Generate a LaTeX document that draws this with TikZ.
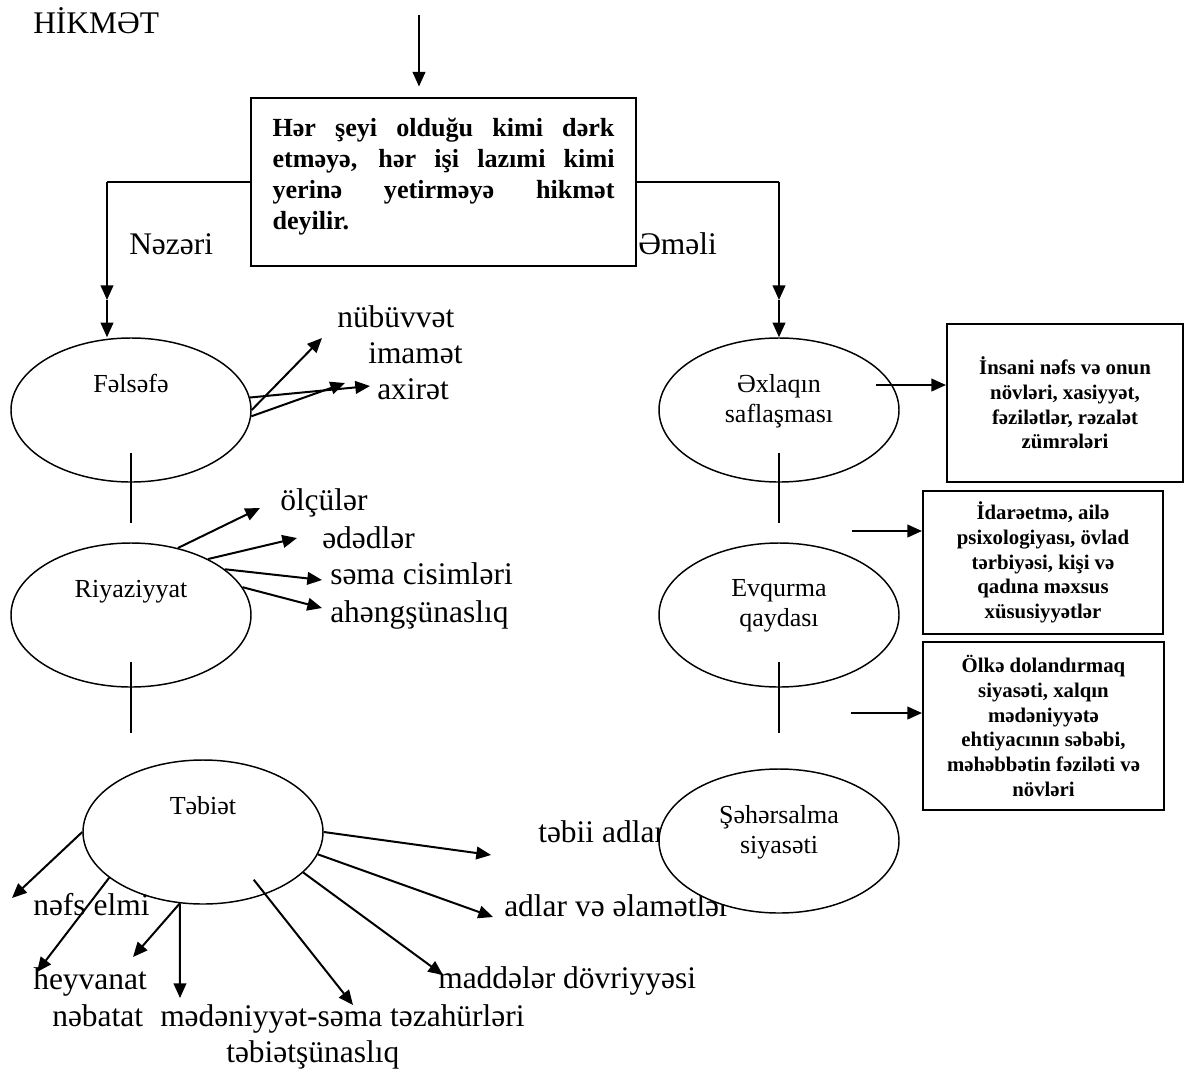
\documentclass[tikz,border=0pt]{standalone}
\usepackage{fontspec}
\setmainfont{Liberation Serif}
\usetikzlibrary{shapes.geometric,arrows.meta}

\newcommand\lblfont{\fontsize{23.6}{28}\selectfont}
\newcommand\ellfont{\fontsize{19.5}{22.5}\selectfont}
\newcommand\hikfont{\bfseries\fontsize{19.6}{23.25}\selectfont}
\newcommand\boxfont{\bfseries\fontsize{15.6}{18.5}\selectfont}

\begin{document}
\begin{tikzpicture}[
    x=0.75pt, y=-0.75pt,
    ellipsebox/.style={ellipse, draw, line width=1.1pt, minimum width=180pt, minimum height=108pt, inner sep=0pt, font=\ellfont, align=center},
    toplabel/.style={text height=14pt, text depth=41pt},
    twolines/.style={text depth=17.5pt},
    textbox/.style={rectangle, draw, line width=1.5pt, align=center, inner sep=0pt, font=\boxfont},
    lbl/.style={anchor=base west, inner sep=0pt, font=\lblfont},
    arrow/.style={-{Triangle[length=11pt, width=9.5pt]}, line width=1.5pt},
    plain/.style={line width=1pt}
  ]
  \useasboundingbox (0,0) rectangle (1186,1072);

  % Title and definition
  \node[lbl] (title) at (33,33) {HİKMƏT};
  \node[rectangle, draw, line width=1.2pt, minimum width=288.75pt, minimum height=126pt, text width=256.5pt, text depth=82pt, align=justify, font=\hikfont] (hikmet) at (443.5,182) {Hər şeyi olduğu kimi dərk\linebreak etməyə, hər işi lazımi kimi\linebreak yerinə yetirməyə hikmət\linebreak deyilir.};
  \node[lbl] (nezeri) at (129,254) {Nəzəri};
  \node[lbl] (emeli) at (638,254) {Əməli};

  % Theoretical branch
  \node[ellipsebox, toplabel] (felsefe) at (131,410) {Fəlsəfə};
  \node[ellipsebox, toplabel] (riyaziyyat) at (131,615) {Riyaziyyat};
  \node[ellipsebox, toplabel] (tebiet) at (203,832) {Təbiət};

  % Practical branch
  \node[ellipsebox, twolines] (exlaq) at (779,410) {Əxlaqın\\saflaşması};
  \node[ellipsebox, twolines] (evqurma) at (779,615) {Evqurma\\qaydası};
  \node[textbox, minimum width=177pt, minimum height=118.5pt] (nefsbox) at (1065,403) {İnsani nəfs və onun\\növləri, xasiyyət,\\fəzilətlər, rəzalət\\zümrələri};
  \node[textbox, minimum width=180pt, minimum height=107.25pt] (idarebox) at (1043,562.5) {İdarəetmə, ailə\\psixologiyası, övlad\\tərbiyəsi, kişi və\\qadına məxsus\\xüsusiyyətlər};
  \node[textbox, minimum width=180.75pt, minimum height=126pt] (olkebox) at (1043.5,726) {Ölkə dolandırmaq\\siyasəti, xalqın\\mədəniyyətə\\ehtiyacının səbəbi,\\məhəbbətin fəziləti və\\növləri};

  % Sub-topics
  \node[lbl] (nubuvvet) at (337,327) {nübüvvət};
  \node[lbl] (imamet) at (368,363) {imamət};
  \node[lbl] (axiret) at (377,399) {axirət};
  \node[lbl] (olculer) at (280,510) {ölçülər};
  \node[lbl] (ededler) at (322,548) {ədədlər};
  \node[lbl] (sema) at (330,584) {səma cisimləri};
  \node[lbl] (aheng) at (330,622) {ahəngşünaslıq};
  \node[lbl] (nefs) at (33,915) {nəfs elmi};
  \node[lbl] (heyvanat) at (33,989) {heyvanat};
  \node[lbl] (nebatat) at (52,1026) {nəbatat};
  \node[lbl] (medeniyyet) at (160,1026) {mədəniyyət-səma təzahürləri};
  \node[lbl] (tebietsunas) at (226,1062) {təbiətşünaslıq};
  \node[lbl] (madde) at (438,988) {maddələr dövriyyəsi};
  \node[lbl] (adlar) at (504,916) {adlar və əlamətlər};
  \node[lbl] (tebiiadlar) at (538,842) {təbii adlar};

  \node[ellipsebox, twolines, fill=white] (seherselma) at (779,841) {Şəhərsalma\\siyasəti};

  % Free ends
  \coordinate (hikmettop) at (419,15);
  \coordinate (nezeriturn) at (107,182);
  \coordinate (nezerimid) at (107,300);
  \coordinate (emeliturn) at (779,182);
  \coordinate (emelimid) at (779,300);
  \coordinate (nubuvvetend) at (322,338);
  \coordinate (axiretend1) at (370,386);
  \coordinate (axiretend2) at (345,383);
  \coordinate (olculerend) at (260,508);
  \coordinate (ededlerend) at (297,538);
  \coordinate (semaend) at (322,580);
  \coordinate (ahengend) at (322,608);
  \coordinate (nefsend) at (12,898);
  \coordinate (heyvanatend) at (37,972);
  \coordinate (nebatatend) at (133,957);
  \coordinate (medeniyyetend) at (180,998);
  \coordinate (tebietsunasend) at (353,1005);
  \coordinate (maddeend) at (443,975);
  \coordinate (adlarend) at (493,917);
  \coordinate (tebiiend) at (491,855);
  \coordinate (exlaqout) at (876,385);
  \coordinate (evqout) at (852,531);
  \coordinate (siyasetout) at (851,713);

  % Main branches
  \draw[arrow, shorten >=8pt] (hikmettop) -- (hikmettop |- hikmet.north);
  \draw[line width=1.5pt] (hikmet.west) -- (nezeriturn);
  \draw[arrow] (nezeriturn) -- (nezerimid);
  \draw[arrow] (nezerimid) -- (nezerimid |- felsefe.north);
  \draw[line width=1.5pt] (hikmet.east) -- (emeliturn);
  \draw[arrow] (emeliturn) -- (emelimid);
  \draw[arrow] (emelimid) -- (exlaq.north);

  % Links between circles
  \draw[plain] ([yshift=22.5pt]felsefe.south) -- ([yshift=-30pt]felsefe.south);
  \draw[plain] ([yshift=19.5pt]riyaziyyat.south) -- ([yshift=-33.75pt]riyaziyyat.south);
  \draw[plain] ([yshift=22.5pt]exlaq.south) -- ([yshift=-30pt]exlaq.south);
  \draw[plain] ([yshift=19.5pt]evqurma.south) -- ([yshift=-33.75pt]evqurma.south);

  % Felsefe
  \draw[arrow] (felsefe.east) -- (nubuvvetend);
  \draw[arrow] (felsefe.6) -- (axiretend1);
  \draw[arrow] (felsefe.-3) -- (axiretend2);

  % Riyaziyyat
  \draw[arrow] (riyaziyyat.55) -- (olculerend);
  \draw[arrow] (riyaziyyat.36) -- (ededlerend);
  \draw[arrow] (riyaziyyat.26) -- (semaend);
  \draw[arrow] (riyaziyyat.14) -- (ahengend);

  % Tebiet
  \draw[arrow] (tebiet.west) -- (nefsend);
  \draw[arrow] (tebiet.206) -- (heyvanatend);
  \draw[arrow] (tebiet.252) -- (nebatatend);
  \draw[arrow] (tebiet.252) -- (medeniyyetend);
  \draw[arrow, shorten <=-14pt] (tebiet.-45) -- (tebietsunasend);
  \draw[arrow] (tebiet.-22) -- (maddeend);
  \draw[arrow] (tebiet.-11) -- (adlarend);
  \draw[arrow] (tebiet.east) -- (tebiiend);

  % Right boxes
  \draw[arrow] (exlaqout) -- (exlaqout -| nefsbox.west);
  \draw[arrow] (evqout) -- (evqout -| idarebox.west);
  \draw[arrow] (siyasetout) -- (siyasetout -| olkebox.west);

\end{tikzpicture}
\end{document}
